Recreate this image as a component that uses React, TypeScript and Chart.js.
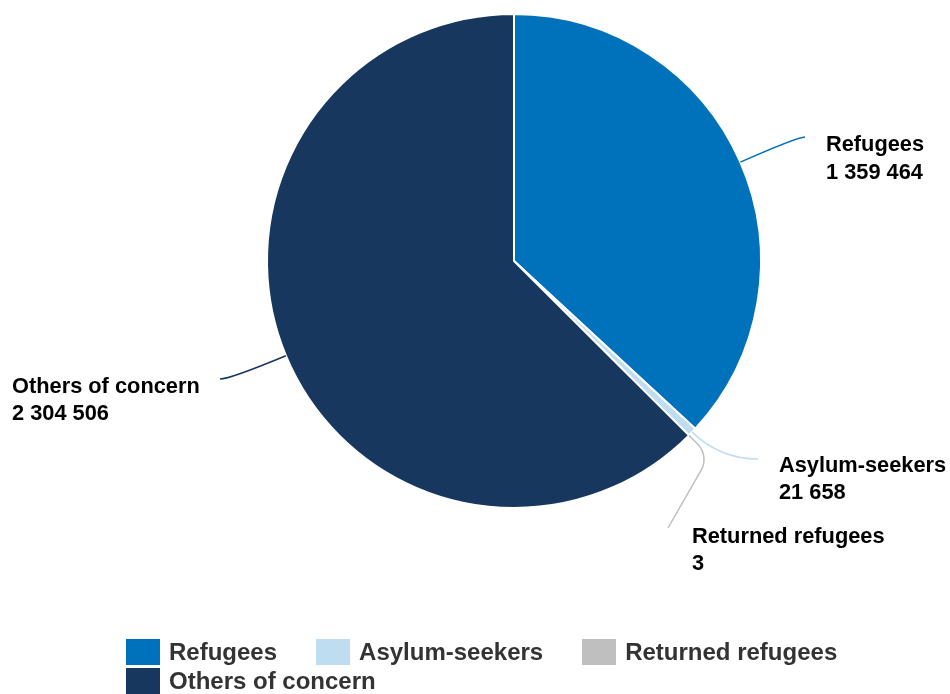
import React, { useEffect, useRef } from "react";
import { Chart, registerables } from "chart.js";

Chart.register(...registerables);

const categories = ["Refugees", "Asylum-seekers", "Returned refugees", "Others of concern"];
const values = [1359464, 21658, 3, 2304506];
const valueLabels = ["1 359 464", "21 658", "3", "2 304 506"];
const colors = ["#0072BC", "#BFDDF1", "#BFBFBF", "#18375F"];

// leader-line / label layout (per category)
// mode "curve": quadratic curve whose control point is where the radial ray meets y = endY
// mode "corner": straight radial segment to breakDist, rounded corner, straight to end
const labelLayout = [
  { mode: "curve", breakDist: 0, endX: 805, endY: 137, corner: 0, textX: 826, base1: 151, base2: 179 },
  { mode: "curve", breakDist: 0, endX: 758, endY: 459, corner: 0, textX: 779, base1: 472, base2: 499 },
  { mode: "corner", breakDist: 276, endX: 668, endY: 528, corner: 22, textX: 692, base1: 543, base2: 570 },
  { mode: "curve", breakDist: 0, endX: 220, endY: 379, corner: 0, textX: 12, base1: 393, base2: 420 },
];

const labelPlugin = {
  id: "leaderLabels",
  afterDatasetsDraw(chart: any) {
    const ctx = chart.ctx;
    const meta = chart.getDatasetMeta(0);
    meta.data.forEach((arc: any, i: number) => {
      const p = arc.getProps(["x", "y", "startAngle", "endAngle", "outerRadius"], true);
      const mid = (p.startAngle + p.endAngle) / 2;
      const L = labelLayout[i];
      const cx = Math.cos(mid);
      const sy0 = Math.sin(mid);
      const sx = p.x + cx * p.outerRadius;
      const sy = p.y + sy0 * p.outerRadius;
      ctx.save();
      ctx.strokeStyle = colors[i];
      ctx.lineWidth = 1.5;
      ctx.beginPath();
      ctx.moveTo(sx, sy);
      if (L.mode === "curve") {
        const d = (L.endY - p.y) / sy0;
        const bx = p.x + cx * d;
        const by = L.endY;
        ctx.quadraticCurveTo(bx, by, L.endX, L.endY);
      } else {
        const bx = p.x + cx * L.breakDist;
        const by = p.y + sy0 * L.breakDist;
        ctx.arcTo(bx, by, L.endX, L.endY, L.corner);
        ctx.lineTo(L.endX, L.endY);
      }
      ctx.stroke();
      ctx.fillStyle = "#000";
      ctx.font = "bold 21.8px 'Liberation Sans', Arial, sans-serif";
      ctx.textAlign = "left";
      ctx.textBaseline = "alphabetic";
      ctx.fillText(categories[i], L.textX, L.base1);
      ctx.fillText(valueLabels[i], L.textX, L.base2);
      ctx.restore();
    });
  },
};

export default function App() {
  const ref = useRef<HTMLCanvasElement>(null);
  useEffect(() => {
    if (!ref.current) return;
    const chart = new Chart(ref.current, {
      type: "pie",
      data: {
        labels: categories,
        datasets: [
          {
            data: values,
            backgroundColor: colors,
            borderColor: "#ffffff",
            borderWidth: 2,
          },
        ],
      },
      options: {
        animation: false,
        responsive: false,
        layout: { padding: { top: 13, left: 266, right: 188, bottom: 185 } },
        plugins: {
          legend: { display: false },
          tooltip: { enabled: false },
        },
      },
      plugins: [labelPlugin],
    });
    return () => chart.destroy();
  }, []);

  return (
    <div style={{ position: "absolute", left: 0, top: 0, width: 950, height: 694, background: "#fff" }}>
      <canvas ref={ref} width={950} height={694} style={{ position: "absolute", left: 0, top: 0 }} />
      <div
        style={{
          position: "absolute",
          left: 126,
          top: 639,
          width: 740,
          display: "flex",
          flexWrap: "wrap",
          columnGap: 39,
          rowGap: 3,
          fontFamily: "'Liberation Sans', Arial, sans-serif",
          fontWeight: "bold",
          fontSize: 24,
          color: "#333333",
        }}
      >
        {categories.map((c, i) => (
          <div key={c} style={{ display: "flex", alignItems: "center", height: 26 }}>
            <span style={{ display: "inline-block", width: 34, height: 26, background: colors[i], marginRight: 9 }} />
            <span style={{ lineHeight: "26px" }}>{c}</span>
          </div>
        ))}
      </div>
    </div>
  );
}
